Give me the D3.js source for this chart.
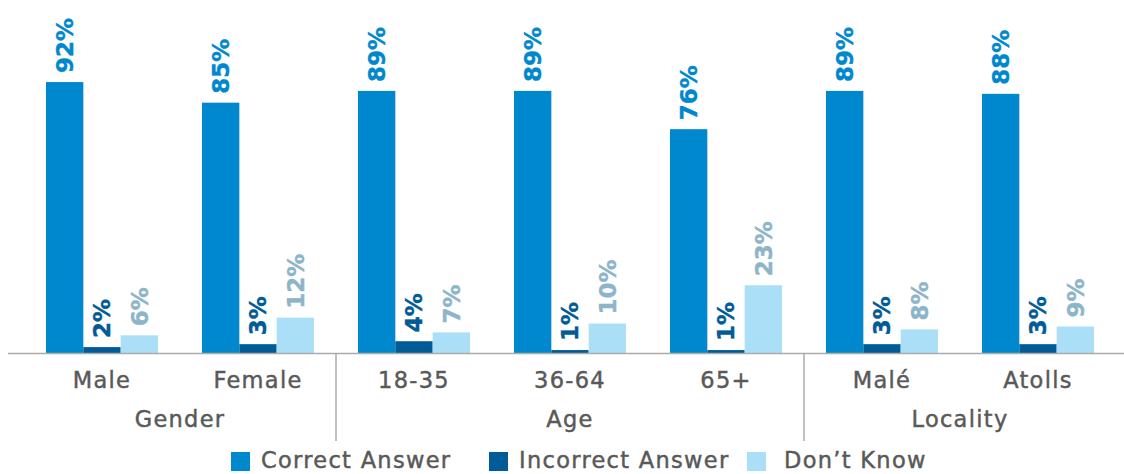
<!DOCTYPE html>
<html>
<head>
<meta charset="utf-8">
<script src="https://cdn.jsdelivr.net/npm/d3@7"></script>
<style>
  html, body { margin: 0; padding: 0; background: #fff; }
  svg { display: block; }
</style>
</head>
<body>
<svg id="chart" width="1124" height="474"></svg>
<script>
// ---- data ----
const categories = ["Male", "Female", "18-35", "36-64", "65+", "Malé", "Atolls"];
const groups = [
  { name: "Gender", members: ["Male", "Female"] },
  { name: "Age", members: ["18-35", "36-64", "65+"] },
  { name: "Locality", members: ["Malé", "Atolls"] }
];
const seriesNames = ["Correct Answer", "Incorrect Answer", "Don’t Know"];
const correctValues   = [92, 85, 89, 89, 76, 89, 88];
const incorrectValues = [2, 3, 4, 1, 1, 3, 3];
const dontKnowValues  = [6, 12, 7, 10, 23, 8, 9];
const seriesColors = ["#0088cf", "#005b96", "#abdff8"];
const labelColors  = ["#0088cf", "#005b96", "#8db5ca"];

const seriesValues = [correctValues, incorrectValues, dontKnowValues];

// ---- layout ----
const W = 1124, H = 474;
const baseY = 353;
const svg = d3.select("#chart");

const x0 = d3.scaleBand().domain(categories).range([24, 1116])
  .paddingInner(0.282).paddingOuter(0.141);
const x1 = d3.scaleBand().domain(seriesNames).range([0, x0.bandwidth()]).padding(0);
const y = d3.scaleLinear().domain([0, 100]).range([baseY, 58.5]);

const textFont = "'DejaVu Sans', sans-serif";
const textColor = "#595959";

function styleAxisText(sel) {
  sel.attr("font-family", textFont)
    .attr("font-size", 22.5)
    .attr("letter-spacing", 1.3)
    .attr("fill", textColor)
    .attr("stroke", textColor)
    .attr("stroke-width", 0.45);
}

// bars
const rows = categories.map((c, i) => ({
  cat: c,
  vals: seriesNames.map((s, j) => ({ s, j, v: seriesValues[j][i] }))
}));

const cg = svg.append("g").selectAll("g").data(rows).join("g")
  .attr("transform", d => `translate(${x0(d.cat)},0)`);

cg.selectAll("rect").data(d => d.vals).join("rect")
  .attr("x", d => x1(d.s))
  .attr("y", d => y(d.v))
  .attr("width", x1.bandwidth())
  .attr("height", d => y(0) - y(d.v))
  .attr("fill", d => seriesColors[d.j]);

cg.selectAll("text").data(d => d.vals).join("text")
  .attr("transform", d => `translate(${x1(d.s) + x1.bandwidth() / 2},${y(d.v) - 9}) rotate(-90)`)
  .attr("dy", "0.36em")
  .attr("text-anchor", "start")
  .attr("font-family", textFont)
  .attr("font-weight", "bold")
  .attr("font-size", 23)
  .attr("fill", d => labelColors[d.j])
  .attr("stroke", d => labelColors[d.j])
  .attr("stroke-width", 0.4)
  .text(d => d.v + "%");

// baseline
svg.append("line")
  .attr("x1", 8).attr("x2", W)
  .attr("y1", baseY + 0.5).attr("y2", baseY + 0.5)
  .attr("stroke", "#ababab").attr("stroke-width", 1.5);

// group separators
const sepXs = groups.slice(0, -1).map((g, i) => {
  const last = g.members[g.members.length - 1];
  const next = groups[i + 1].members[0];
  return (x0(last) + x0.bandwidth() + x0(next)) / 2;
});
svg.append("g").selectAll("line").data(sepXs).join("line")
  .attr("x1", d => d).attr("x2", d => d)
  .attr("y1", baseY).attr("y2", 441)
  .attr("stroke", "#ababab").attr("stroke-width", 1.5);

// category labels
svg.append("g").selectAll("text").data(categories).join("text")
  .attr("x", d => x0(d) + x0.bandwidth() / 2)
  .attr("y", 388)
  .attr("text-anchor", "middle")
  .call(styleAxisText)
  .text(d => d);

// group labels
svg.append("g").selectAll("text").data(groups).join("text")
  .attr("x", g => {
    const a = x0(g.members[0]) + x0.bandwidth() / 2;
    const b = x0(g.members[g.members.length - 1]) + x0.bandwidth() / 2;
    return (a + b) / 2;
  })
  .attr("y", 427)
  .attr("text-anchor", "middle")
  .call(styleAxisText)
  .text(g => g.name);

// legend
const lx = d3.scaleBand().domain(seriesNames).range([231, 231 + 3 * 258]);
const items = svg.append("g").selectAll("g").data(seriesNames).join("g")
  .attr("transform", d => `translate(${lx(d)},468)`);
items.append("rect").attr("width", 19).attr("height", 19).attr("y", -16)
  .attr("fill", (d, i) => seriesColors[i]);
items.append("text").attr("x", (d, i) => i === 2 ? 37 : 30).attr("y", 0)
  .call(styleAxisText)
  .text(d => d);
</script>
</body>
</html>
